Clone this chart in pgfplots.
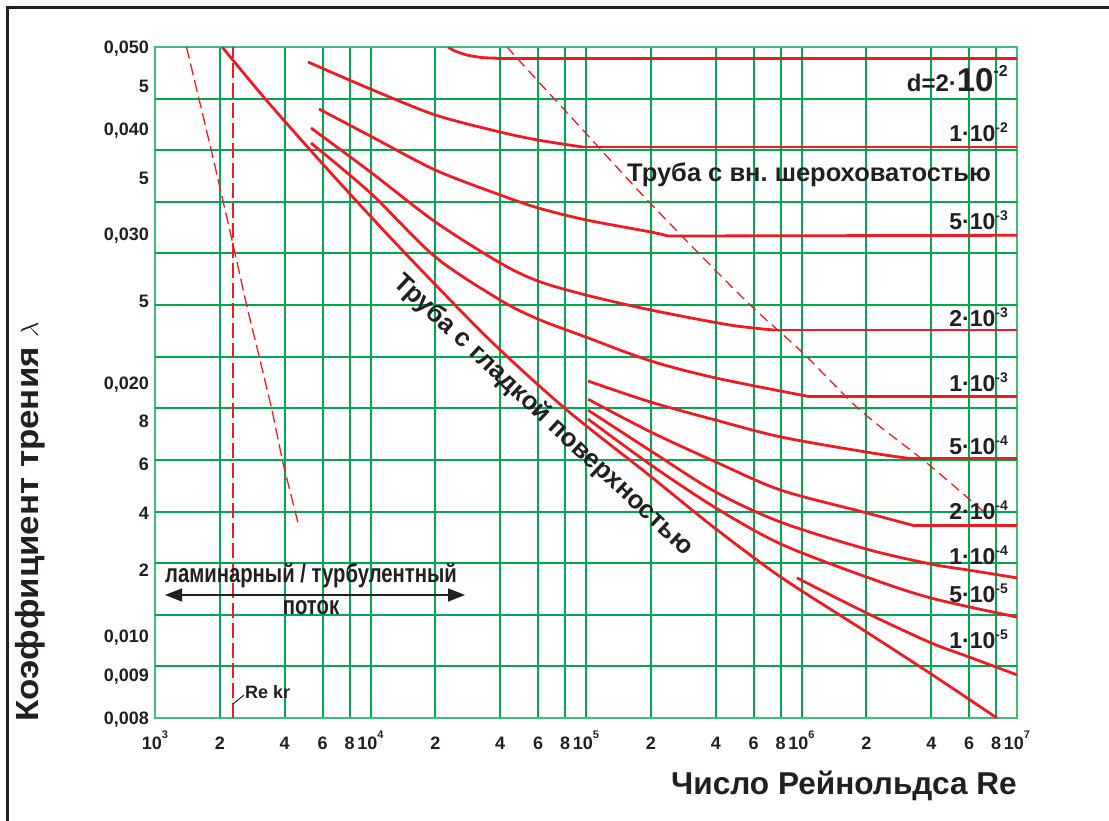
\documentclass[border=0pt]{standalone}
\usepackage{fontspec}
\setmainfont{Liberation Sans}
\usepackage{graphicx}
\usepackage{pgfplots}
\pgfplotsset{compat=1.18}
\usetikzlibrary{arrows.meta}
\definecolor{gridgreen}{HTML}{00A651}
\definecolor{cred}{HTML}{ED1C24}
\definecolor{ink}{HTML}{231F20}
\newcommand\fs[1]{\fontsize{#1}{#1}\selectfont}
\newcommand\sxt[1]{\raisebox{11pt}{\fs{11}#1}}
\newcommand\sx[1]{\raisebox{9pt}{\fs{14}#1}}
\newcommand\dl[2]{\fs{23}\bfseries #1·10\sx{#2}}
\begin{document}
\begin{tikzpicture}[x=1pt,y=1pt]
\useasboundingbox (0,0) rectangle (1109,821);
\begin{axis}[
  at={(155pt,103pt)}, anchor=south west,
  width=862pt, height=671pt, scale only axis,
  xmode=log, ymode=log,
  xmin=1000, xmax=10000000, ymin=0.008, ymax=0.05,
  axis line style={draw=gridgreen!75, line width=1.6pt},
  major tick length=0pt, minor tick length=0pt,
  xtick={1000,2000,4000,6000,8000,10000,20000,40000,60000,80000,100000,200000,400000,600000,800000,1000000,2000000,4000000,6000000,8000000,10000000},
  xticklabels={{10\sxt{3}},2,4,6,8,{10\sxt{4}},2,4,6,8,{10\sxt{5}},2,4,6,8,{10\sxt{6}},2,4,6,8,{10\sxt{7}}},
  ytick={0.008,0.009,0.010,0.012,0.014,0.016,0.018,0.020,0.025,0.030,0.035,0.040,0.045,0.050},
  yticklabels={{0,008},{0,009},{0,010},2,4,6,8,{0,020},5,{0,030},5,{0,040},5,{0,050}},
  xmajorgrids=true, ymajorgrids=false,
  major grid style={draw=gridgreen, line width=2pt},
  extra y ticks={0.0092111,0.0106056,0.0122111,0.0140597,0.0161882,0.0186389,0.0214606,0.0247095,0.0284502,0.0327573,0.0377163,0.0434261},
  extra y tick labels={},
  extra y tick style={grid=major, major tick length=0pt},
  xticklabel style={font=\fs{18}\bfseries, text=ink, anchor=base, inner sep=0pt, yshift=-31pt},
  yticklabel style={font=\fs{18}\bfseries, text=ink, anchor=base east, inner sep=0pt, xshift=-6pt, yshift=-6.5pt},
  every axis plot/.style={cred, line width=2.8pt, no markers},
]
% laminar line (dashed)
\addplot[line width=1.3pt, dash pattern=on 12pt off 5pt] coordinates {
(1400,0.0500) (1838,0.03743) (2277,0.02952) (2673,0.02458) (3071,0.02127) (3491,0.01855) (3926,0.01605) (4609,0.01363)};
% Re kr
\addplot[line width=1.8pt, dash pattern=on 15pt off 5pt] coordinates {(2300,0.008) (2300,0.05)};
% boundary of full roughness (dashed)
\addplot[line width=1.3pt, dash pattern=on 10pt off 6pt, smooth] coordinates {
(43000,0.0500) (59240,0.04569) (96800,0.03986) (198200,0.03266) (535300,0.02519) (1016000,0.02168) (1869000,0.01855) (3823000,0.01605) (7104000,0.01401)};
% smooth pipe
\addplot[smooth] coordinates {
(2050,0.0500) (3310,0.04315) (6486,0.03554) (14000,0.02873) (35850,0.02245) (81600,0.01855) (198200,0.0155) (384300,0.01352) (800000,0.01176) (2000000,0.01012) (4000000,0.00902) (8076000,0.0080)};
% d = 2e-2
\addplot[smooth] coordinates {(22890,0.0500) (24660,0.04946) (28040,0.04892) (33000,0.04858) (38640,0.0485)};
\addplot[sharp plot] coordinates {(38640,0.0485) (10000000,0.0485)};
% 1e-2
\addplot[smooth] coordinates {(5130,0.04799) (10000,0.04458) (20000,0.04153) (40000,0.03964) (60000,0.03878) (96800,0.03805)};
\addplot[sharp plot] coordinates {(96800,0.03805) (10000000,0.03805)};
% 5e-3
\addplot[smooth] coordinates {(5770,0.04221) (10000,0.03921) (20000,0.03573) (40000,0.03338) (60000,0.03222) (100000,0.03118) (200000,0.03017) (240200,0.02984)};
\addplot[sharp plot] coordinates {(240200,0.02984) (10000000,0.0299)};
% 2e-3
\addplot[smooth] coordinates {(5296,0.04008) (10000,0.03554) (20000,0.03101) (40000,0.02772) (60000,0.02638) (100000,0.0254) (200000,0.02438) (465800,0.0234) (753400,0.02308)};
\addplot[sharp plot] coordinates {(753400,0.02308) (10000000,0.02308)};
% 1e-3
\addplot[smooth] coordinates {(5296,0.03847) (10000,0.03356) (20000,0.02818) (40000,0.02505) (60000,0.02378) (100000,0.02264) (200000,0.02121) (400000,0.02025) (1060500,0.01927)};
\addplot[sharp plot] coordinates {(1060500,0.01927) (10000000,0.01927)};
% 5e-4
\addplot[smooth] coordinates {(102200,0.02008) (200000,0.01896) (400000,0.01805) (800000,0.01724) (2000000,0.01654) (3088000,0.01627)};
\addplot[sharp plot] coordinates {(3088000,0.01627) (10000000,0.01627)};
% 2e-4
\addplot[smooth] coordinates {(102200,0.01911) (200000,0.01747) (400000,0.0161) (800000,0.01491) (2000000,0.01401) (3363000,0.01352)};
\addplot[sharp plot] coordinates {(3363000,0.01352) (10000000,0.01352)};
% 1e-4
\addplot[smooth] coordinates {(102200,0.01855) (200000,0.01659) (400000,0.01483) (800000,0.01366) (2000000,0.01269) (4000000,0.01218) (6000000,0.01198) (10000000,0.01173)};
% 5e-5
\addplot[smooth] coordinates {(102200,0.0181) (200000,0.01597) (400000,0.0142) (800000,0.01287) (2000000,0.01176) (4000000,0.0111) (10000000,0.01054)};
% 1e-5
\addplot[smooth] coordinates {(952900,0.01173) (2000000,0.01066) (4000000,0.00982) (6000000,0.00945) (10000000,0.0090)};
\end{axis}
% outer frame
\draw[ink, line width=2.5pt] (7.5,0) -- (7.5,813.5) -- (1109,813.5);
% axis titles
\node[rotate=90, anchor=base west, inner sep=0pt, text=ink, font=\fs{32}\bfseries] at (38,99) {\scalebox{1.09}[1]{Коэффициент трения $\lambda$}};
\node[anchor=base east, inner sep=0pt, text=ink, font=\fs{31.6}\bfseries] at (1017,26) {Число Рейнольдса Re};
% annotations
\node[anchor=base west, inner sep=0pt, text=ink, font=\fs{25.5}\bfseries] at (627,639) {Труба с вн.\ шероховатостью};
\node[rotate=-43, inner sep=0pt, text=ink, font=\fs{25.8}\bfseries] at (543,406) {Труба с гладкой поверхностью};
\node[anchor=base, inner sep=0pt, text=ink, font=\fs{26}\bfseries] at (311,238) {\scalebox{0.78}[1]{ламинарный / турбулентный}};
\node[anchor=base, inner sep=0pt, text=ink, font=\fs{26}\bfseries] at (311,206) {\scalebox{0.78}[1]{поток}};
\draw[ink, line width=1.5pt, {Triangle[length=17pt,width=13pt]}-{Triangle[length=17pt,width=13pt]}] (165,226) -- (465,226);
\node[anchor=base west, inner sep=0pt, text=ink, font=\fs{18}\bfseries] at (245,122) {Re kr};
\draw[ink, line width=1pt] (233,117) -- (244,126);
% curve labels
\node[anchor=base east, inner sep=0pt, text=ink] at (1008,729) {\bfseries\fs{24}d=2·\fs{33}10\raisebox{15pt}{\fs{16}-2}};
\node[anchor=base east, inner sep=0pt, text=ink] at (1008,679) {\dl{1}{-2}};
\node[anchor=base east, inner sep=0pt, text=ink] at (1008,591) {\dl{5}{-3}};
\node[anchor=base east, inner sep=0pt, text=ink] at (1008,494) {\dl{2}{-3}};
\node[anchor=base east, inner sep=0pt, text=ink] at (1008,429) {\dl{1}{-3}};
\node[anchor=base east, inner sep=0pt, text=ink] at (1008,366) {\dl{5}{-4}};
\node[anchor=base east, inner sep=0pt, text=ink] at (1008,301) {\dl{2}{-4}};
\node[anchor=base east, inner sep=0pt, text=ink] at (1008,256) {\dl{1}{-4}};
\node[anchor=base east, inner sep=0pt, text=ink] at (1008,218) {\dl{5}{-5}};
\node[anchor=base east, inner sep=0pt, text=ink] at (1008,172) {\dl{1}{-5}};
\end{tikzpicture}
\end{document}
